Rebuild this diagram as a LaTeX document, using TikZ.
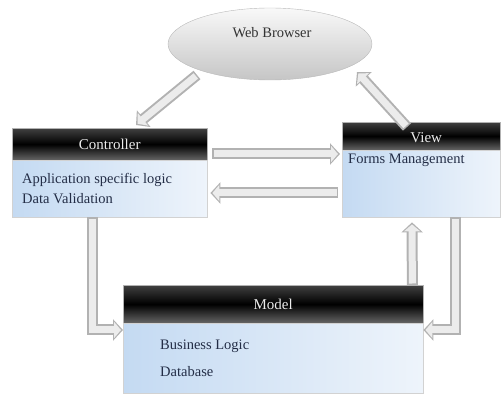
\documentclass[tikz,border=0pt]{standalone}
\usepackage{fontspec}
\setmainfont{Liberation Serif}
\usetikzlibrary{arrows.meta,calc,shapes.geometric}
\definecolor{bodyL}{RGB}{196,218,242}
\definecolor{bodyR}{RGB}{238,244,251}
\definecolor{bodytxt}{RGB}{35,45,70}
\tikzset{
  hdr/.style={anchor=north west, inner sep=0pt, draw=gray!60, top color=black!75, bottom color=black!60, middle color=black},
  hdrtxt/.style={inner sep=0pt, text=gray!15, font=\fontsize{15}{18}\selectfont},
  bodybox/.style={anchor=north west, inner sep=0pt, draw=gray!35, left color=bodyL, right color=bodyR},
  btxt/.style={anchor=west, inner sep=0pt, text=bodytxt, font=\fontsize{14.5}{18}\selectfont},
  barrow/.style={line join=miter, draw=gray!15, line width=7pt, shorten >=2pt, shorten <=1.5pt,
                 -{Triangle[length=7pt,width=16pt]},
                 preaction={draw=gray!60, line width=11pt, shorten >=0pt, shorten <=0pt, -{Triangle[length=10pt,width=21pt]}}}
}
\begin{document}
\begin{tikzpicture}[x=1pt,y=-1pt]
\useasboundingbox (0,0) rectangle (504,395);
% Web browser
\node[ellipse, draw=gray!55, top color=gray!5, bottom color=gray!45, minimum width=204pt, minimum height=72pt, inner sep=0pt] (wb) at (270,44) {};
\node[inner sep=0pt, font=\fontsize{14.5}{18}\selectfont, text=black!80] (wbt) at (272,33) {Web Browser};
% Controller
\node[hdr, minimum width=195pt, minimum height=32pt] (ch) at (12,128) {};
\node[hdrtxt] (cht) at (ch.center) {Controller};
\node[bodybox, minimum width=195pt, minimum height=57pt] (cb) at (12,160) {};
\node[btxt] (c1) at (22,180) {Application specific logic};
\node[btxt] (c2) at (22,199) {Data Validation};
% View
\node[hdr, minimum width=158pt, minimum height=28pt] (vh) at (342,122) {};
\node[hdrtxt] (vht) at ($(vh.center)+(5,1)$) {View};
\node[bodybox, minimum width=158pt, minimum height=67pt] (vb) at (342,150) {};
\node[btxt] (v1) at (348,160) {Forms Management};
% Model
\node[hdr, minimum width=300pt, minimum height=38pt] (mh) at (123,285) {};
\node[hdrtxt] (mht) at (mh.center) {Model};
\node[bodybox, minimum width=300pt, minimum height=70pt] (mb) at (123,323) {};
\node[btxt] (m1) at (160,346) {Business Logic};
\node[btxt] (m2) at (160,372) {Database};
% Arrows
\draw[barrow] ($(wb.center)+(-73,31)$) -- ($(ch.north west)+(124,-3)$);
\draw[barrow] ($(vh.north west)+(65,5)$) -- ($(wb.center)+(87,28)$);
\draw[barrow] ($(cb.north east)+(5,-6)$) -- ($(vb.north west)+(-2,4)$);
\draw[barrow] ($(vb.north west)+(-4,43)$) -- ($(cb.north east)+(3,33)$);
\draw[barrow] ($(cb.south west)+(80,0)$) |- ($(mb.north west)+(0,7)$);
\draw[barrow] ($(mh.north east)+(-11,0)$) -- ($(vb.south west)+(70,5)$);
\draw[barrow] ($(vb.south west)+(113,0)$) |- ($(mb.north east)+(0,7)$);
\end{tikzpicture}
\end{document}
